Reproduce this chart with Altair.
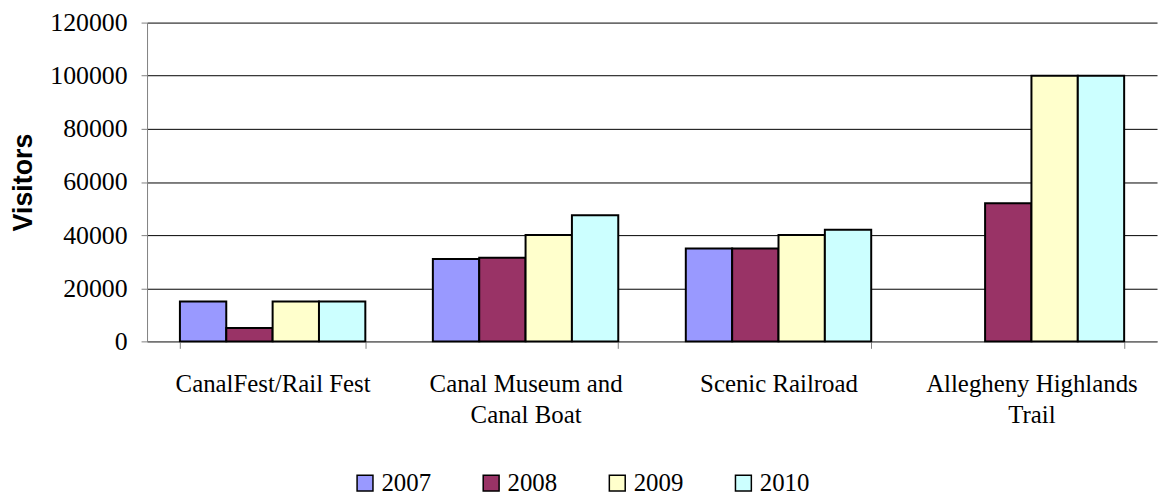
import altair as alt
import pandas as pd

categories = ["CanalFest/Rail Fest", "Canal Museum and|Canal Boat", "Scenic Railroad", "Allegheny Highlands|Trail"]
years = ["2007", "2008", "2009", "2010"]
v2007 = [15000, 31000, 35000, None]
v2008 = [5000, 31500, 35000, 52000]
v2009 = [15000, 40000, 40000, 100000]
v2010 = [15000, 47500, 42000, 100000]
colors = ["#9999FF", "#993366", "#FFFFCC", "#CCFFFF"]

rows = []
for y, vals in zip(years, [v2007, v2008, v2009, v2010]):
    for c, v in zip(categories, vals):
        if v is not None:
            rows.append({"cat": c, "year": y, "visitors": v})
df = pd.DataFrame(rows)

SERIF = "Times New Roman, Liberation Serif, serif"

chart = alt.Chart(df).mark_bar(stroke="black", strokeWidth=2).encode(
    x=alt.X("cat:N", sort=categories, title=None,
            scale=alt.Scale(paddingInner=0.267, paddingOuter=0.13),
            axis=alt.Axis(labelAngle=0, labelExpr="split(datum.label, '|')",
                          labelFont=SERIF, labelFontSize=25, labelColor="black",
                          labelPadding=23, labelLineHeight=32, labelLimit=0,
                          tickBand="extent", tickColor="#808080", tickSize=7,
                          domainColor="#808080", grid=False)),
    xOffset=alt.XOffset("year:N", sort=years, scale=alt.Scale(paddingInner=0, paddingOuter=0)),
    y=alt.Y("visitors:Q", title="Visitors",
            scale=alt.Scale(domain=[0, 120000]),
            axis=alt.Axis(values=[0, 20000, 40000, 60000, 80000, 100000, 120000],
                          format="d", labelFont=SERIF, labelFontSize=26,
                          labelColor="black", labelPadding=14,
                          titleFont="Liberation Sans", titleFontSize=27, titleFontWeight="bold",
                          titleColor="black", titlePadding=12,
                          tickColor="#808080", tickSize=6, domainColor="#808080",
                          grid=True, gridColor="black", gridWidth=1)),
    color=alt.Color("year:N", sort=years, title=None,
                    scale=alt.Scale(domain=years, range=colors),
                    legend=alt.Legend(orient="none", legendX=207, legendY=451,
                                      direction="horizontal", padding=0,
                                      symbolType="square", symbolSize=256,
                                      symbolStrokeColor="black", symbolStrokeWidth=1.5,
                                      symbolOpacity=1, labelOffset=4,
                                      labelFont=SERIF, labelFontSize=25,
                                      labelColor="black", columnPadding=48)),
).properties(
    width=1017, height=321,
    autosize=alt.AutoSizeParams(type="none"),
    padding={"left": 140, "top": 13, "right": 5, "bottom": 154},
).configure_view(stroke=None)

chart.save("out.html", embed_options={"renderer": "svg", "actions": False})
